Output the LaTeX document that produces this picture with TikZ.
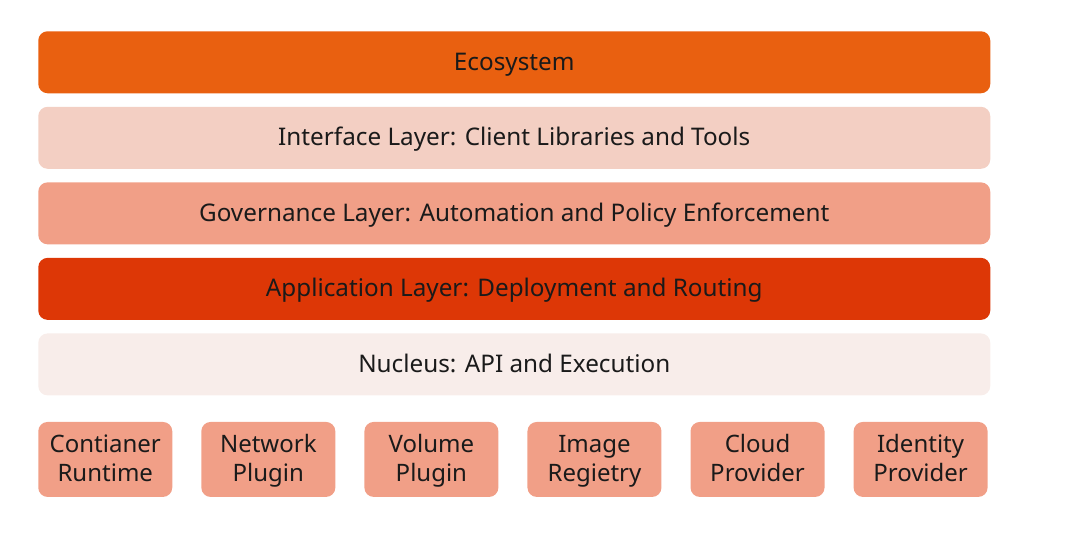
\documentclass[tikz,border=0pt]{standalone}
\usepackage{fontspec}
\setmainfont{Noto Sans}
\usetikzlibrary{positioning}
\definecolor{ecoorange}{HTML}{E96010}
\definecolor{ifacepink}{HTML}{F3CFC3}
\definecolor{govsalmon}{HTML}{F19F87}
\definecolor{appred}{HTML}{DD3706}
\definecolor{nucpale}{HTML}{F8EDEA}
\definecolor{txtgray}{HTML}{1A1A1A}
\newcommand{\upstrut}{\rule{0pt}{18.2pt}}

\begin{document}
\begin{tikzpicture}[x=0.75pt,y=-0.75pt,node distance=9.75pt,
  bar/.style={rounded corners=7pt, minimum width=714pt, minimum height=46.5pt,
    inner sep=0pt, text=txtgray, font=\fontsize{18.2}{21.75}\selectfont,
    text height=15.2pt, text depth=3.5pt},
  plug/.style={rounded corners=7pt, fill=govsalmon, minimum width=100.5pt,
    minimum height=56.25pt, inner sep=0pt, align=center, text=txtgray,
    font=\fontsize{18}{21.75}\selectfont}]
  \useasboundingbox (0,0) rectangle (1076,540);
  % layers
  \node (eco)   [bar, fill=ecoorange, anchor=north west] at (38,31) {Ecosystem};
  \node (iface) [bar, fill=ifacepink, below=of eco]   {Interface Layer: Client Libraries and Tools};
  \node (gov)   [bar, fill=govsalmon, below=of iface] {Governance Layer: Automation and Policy Enforcement};
  \node (app)   [bar, fill=appred, below=of gov]      {Application Layer: Deployment and Routing};
  \node (nuc)   [bar, fill=nucpale, below=of app]     {Nucleus: API and Execution};
  % plugins
  \node (runtime)  [plug, below right=19.5pt and 0pt of nuc.south west] {Contianer\upstrut\\Runtime\strut};
  \node (network)  [plug, right=21.4pt of runtime]  {Network\upstrut\\Plugin\strut};
  \node (volume)   [plug, right=21.4pt of network]  {Volume\upstrut\\Plugin\strut};
  \node (registry) [plug, right=21.4pt of volume]   {Image\upstrut\\Regietry\strut};
  \node (cloud)    [plug, right=21.4pt of registry] {Cloud\upstrut\\Provider\strut};
  \node (identity) [plug, right=21.4pt of cloud]    {Identity\upstrut\\Provider\strut};
\end{tikzpicture}
\end{document}
